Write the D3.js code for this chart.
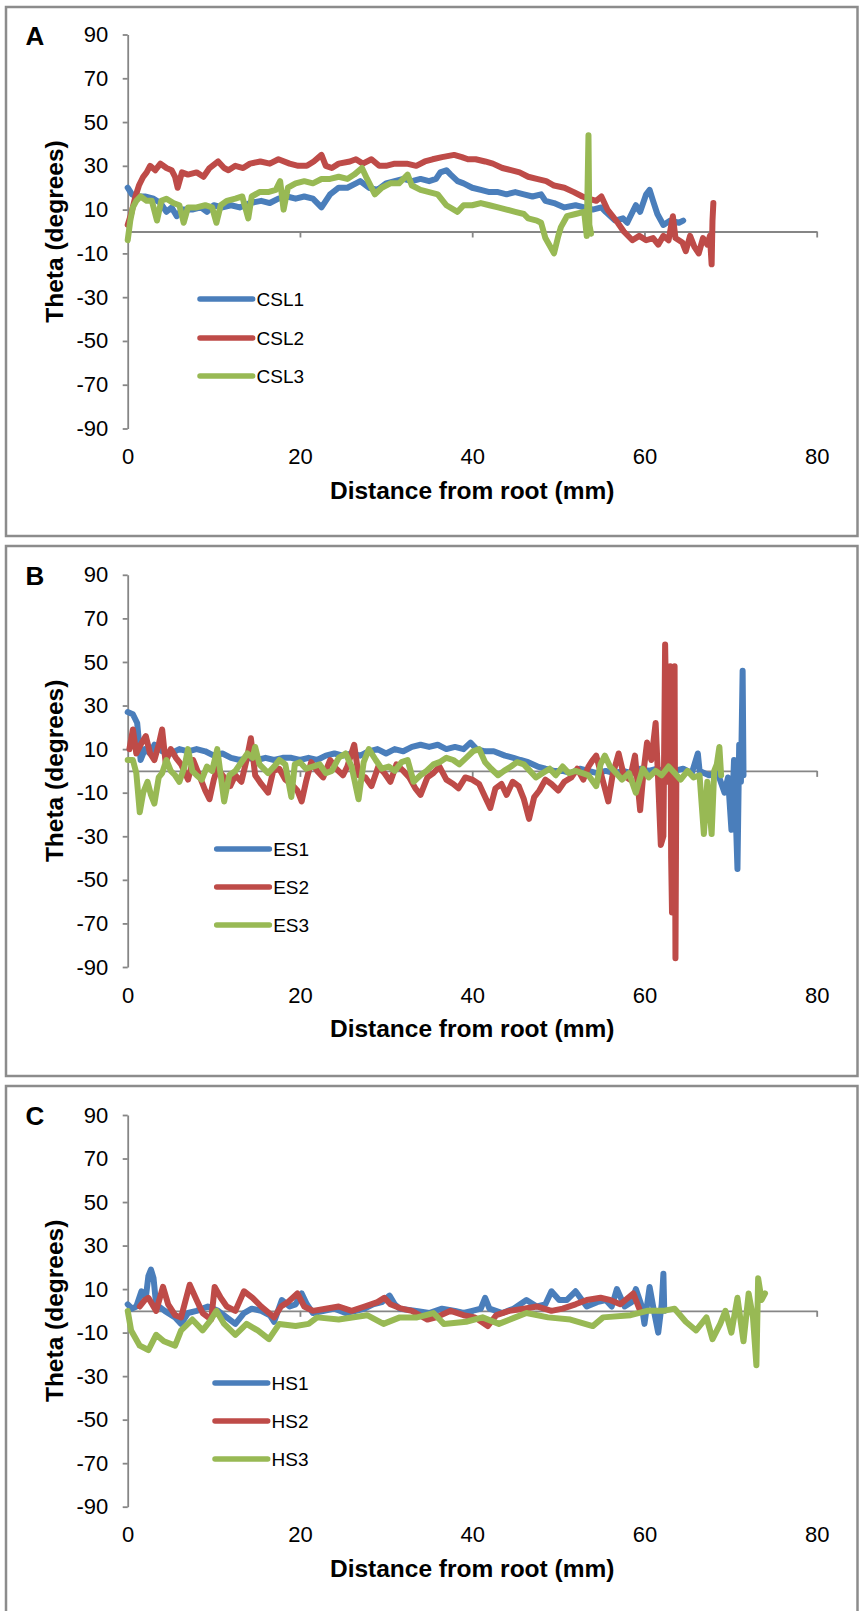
<!DOCTYPE html>
<html>
<head>
<meta charset="utf-8">
<script src="https://cdn.jsdelivr.net/npm/d3@7"></script>
<style>
  body { margin: 0; background: #fff; }
  svg { display: block; font-family: "Liberation Sans", Arial, sans-serif; }
  .axis path, .axis line { stroke: #868686; stroke-width: 1.8; }
  .axis text { fill: #000; font-size: 22px; }
</style>
</head>
<body>
<svg width="860" height="1611"></svg>
<script>
// ** DATA ** //
const panelLetters = ["A", "B", "C"];
const seriesNames = [
  ["CSL1", "CSL2", "CSL3"],
  ["ES1", "ES2", "ES3"],
  ["HS1", "HS2", "HS3"]
];
const seriesColors = ["#4a7ebb", "#be4b48", "#98b954"];
const xTicks = [0, 20, 40, 60, 80];
const yTicks = [90, 70, 50, 30, 10, -10, -30, -50, -70, -90];
const xTitle = "Distance from root (mm)";
const yTitle = "Theta (degrees)";

// [distance mm, theta deg]
const csl1 = [[0,20],[0.5,17],[1,16],[2,16],[3,15],[3.8,13],[4.5,9],[5.1,11],[5.7,7],[6.3,10],[7.5,10],[8.5,11],[9.2,9],[10,12],[11,11],[12,12],[13,11],[14.2,13],[15.5,14],[16.5,13],[17.5,15],[18.5,16],[19.5,15],[20.5,16],[21.5,15],[22.5,11],[23.5,17],[24.5,20],[25.5,20],[26.5,22],[27,23],[28,20],[29,19],[30,22],[31,23],[32,24],[33,23],[34,24],[35,23],[35.8,24],[36.3,27],[37,28],[37.5,26],[38.3,23],[39,22],[40,20],[41,19],[42,18],[43,18],[44,17],[45,18],[46,17],[47,16],[48,17],[48.5,14],[49.5,13],[50.7,11],[52,12],[53,11],[54,10],[55,11],[55.5,9],[56.6,5],[57.5,6],[58,4],[59,12],[59.5,9],[60.2,17],[60.6,19],[61,14],[61.5,8],[62.2,3],[63,5],[64,4],[64.5,5]];
const csl2 = [[0,3],[0.4,8],[0.9,16],[1.3,21],[1.8,25],[2.2,27],[2.6,30],[3.2,28],[3.8,31],[4.5,29],[5.1,28],[5.5,25],[5.8,20],[6.3,27],[7,26],[8,27],[8.8,25],[9.5,29],[10.5,32],[11.2,29],[11.7,28],[12.5,30],[13.4,29],[14.2,31],[15.4,32],[16.5,31],[17.5,33],[18.8,31],[19.8,30],[20.8,30],[21.6,32],[22.5,35],[23,30],[23.7,29],[24.5,31],[25.8,32],[26.5,33],[27.3,31],[28.3,33],[29.2,30],[30,30],[31,31],[32.4,31],[33.5,30],[34.5,32],[35.4,33],[36.5,34],[37.9,35],[38.8,34],[39.5,33],[40.4,33],[41.5,32],[42.4,31],[43.5,29],[44.5,28],[45.5,27],[46.5,25],[47.5,24],[48.6,23],[49.5,21],[50.7,20],[51.8,18],[52.8,16],[53.5,15],[54.4,14],[55,16],[55.7,10],[56.3,7],[56.9,4],[57.6,0],[58.6,-4],[59.4,-2],[60.2,-4],[61,-3],[61.6,-6],[62.2,-2],[62.8,-4],[63.3,7],[63.6,-3],[64.4,-5],[64.8,-9],[65.3,-2],[65.8,-7],[66.3,-10],[66.8,-3],[67.3,-6],[67.6,-2],[67.8,-15],[67.9,5],[68,13]];
const csl3 = [[0,-4],[0.3,5],[0.6,11],[1,14],[1.5,16],[2.2,14],[2.8,14],[3.4,5],[3.9,14],[4.5,15],[5.3,13],[6,12],[6.5,4],[7,11],[8,11],[9,12],[9.8,11],[10.3,4],[10.8,12],[11.5,14],[12.5,15],[13.3,16],[14,6],[14.4,16],[15.3,18],[16.3,18],[17.2,19],[17.7,23],[18.1,10],[18.6,20],[19.5,22],[20.5,23],[21.5,22],[22.5,24],[23.5,24],[24.5,25],[25.5,24],[26.3,26],[27.2,29],[27.8,24],[28.7,17],[29.5,20],[30.5,22],[31.5,22],[32.5,26],[33,21],[34,19],[35,18],[36,17],[37,12],[38.3,9],[39,12],[40,12],[41,13],[42,12],[43,11],[44,10],[45,9],[46,8],[46.5,6],[47.5,5],[48,4],[48.5,-3],[49.5,-10],[50,-2],[50.3,2],[51,7],[52,8],[53,9],[53.3,-2],[53.5,44],[53.6,3],[53.8,-1]];

const es1 = [[0,27],[0.6,26],[1.1,22],[1.5,5],[2,10],[2.6,8],[3.1,12],[4,9],[5,8],[6,10],[7,9],[8,10],[9,9],[10,7],[11,8],[12,6],[13,5],[14,6],[15,5],[16,6],[17,5],[18,6],[19,6],[20,5],[21,6],[22,5],[23,7],[24,8],[25,7],[26,8],[27,7],[28,9],[29,10],[30,8],[31,10],[32,9],[33,11],[34,12],[35,11],[36,12],[37,10],[38,11],[39,10],[39.8,13],[40.5,10],[41.5,9],[42.5,9],[43.8,7],[44.8,6],[45.6,5],[46.5,4],[47.6,2],[48.5,1],[49.5,0],[50.5,0],[51.5,-1],[52.5,1],[53.5,0],[54.5,-1],[55.5,0],[56.5,-1],[57.5,0],[58.5,-1],[59.5,1],[60.5,0],[61.5,1],[62.5,-1],[63.5,0],[64.5,1],[65.5,-1],[66.2,8],[66.4,0],[67.5,-2],[68.5,-1],[69.3,-10],[69.7,-3],[70.1,-27],[70.4,5],[70.8,-45],[71,12],[71.2,-5],[71.4,46],[71.5,-2]];
const es2 = [[0.2,10],[0.6,19],[1,8],[1.5,12],[2.1,16],[2.6,8],[3.1,5],[3.6,12],[4,19],[4.4,4],[5,10],[5.6,6],[6.2,3],[7,-4],[7.6,5],[8.3,-2],[9,-9],[9.5,-13],[10,-4],[10.4,1],[11.2,-3],[11.9,-7],[12.5,-2],[13.2,-5],[13.8,5],[14.3,15],[14.8,-2],[15.5,-6],[16.3,-10],[16.9,0],[17.6,1],[18.3,-4],[19,-6],[19.7,-9],[20.2,-14],[20.7,-5],[21.3,4],[22,0],[22.7,-3],[23.5,5],[24.2,1],[25,-2],[25.5,2],[26.3,12],[26.8,-2],[27.6,-3],[28.3,-7],[29.1,2],[29.8,-1],[30.5,-5],[31.2,3],[32,0],[32.7,-3],[33.4,-8],[34,-11],[34.8,-3],[35.5,-1],[36.2,2],[37,-4],[37.8,-6],[38.4,-8],[39.2,-3],[40,-4],[40.8,-6],[41.5,-12],[42.1,-17],[42.7,-8],[43.4,-6],[44,-11],[44.7,-5],[45.4,-7],[46,-13],[46.6,-22],[47.2,-12],[47.8,-9],[48.5,-4],[49.2,-6],[50,-9],[50.7,-5],[51.5,-3],[52.2,1],[52.9,-4],[53.5,2],[54,5],[54.4,7],[55,-2],[55.4,-8],[55.8,-14],[56.3,-2],[57,8],[57.6,-2],[58.3,-4],[58.9,7],[59.5,-18],[59.9,0],[60.3,13],[60.8,5],[61.3,22],[61.6,-5],[61.9,-34],[62.2,-30],[62.4,58],[62.6,10],[62.8,-5],[63,48],[63.1,-40],[63.2,-65],[63.4,0],[63.5,48],[63.6,-86],[63.7,-5]];
const es3 = [[0,5],[0.6,5],[1,-1],[1.4,-19],[1.8,-10],[2.3,-5],[2.7,-11],[3.1,-15],[3.6,-3],[4,-1],[4.5,5],[5,0],[5.5,-2],[6,-5],[6.6,2],[7,10],[7.5,0],[8,-2],[8.6,-4],[9.2,2],[9.8,0],[10.4,10],[11.2,-14],[11.8,-2],[12.5,0],[13.2,4],[13.9,8],[14.5,6],[14.8,11],[15.3,3],[16.3,-1],[17,2],[17.6,5],[18.3,3],[19,-12],[19.4,3],[20,4],[20.7,1],[21.5,2],[22.3,3],[23,-1],[23.7,0],[24.5,6],[25.3,8],[26,2],[26.8,-13],[27.4,4],[28,10],[28.8,5],[29.5,1],[30.3,2],[31,0],[31.8,4],[32.5,5],[33.2,-5],[34,-2],[34.7,0],[35.5,3],[36.2,4],[37,6],[37.8,5],[38.5,3],[39.3,6],[40.1,9],[40.8,10],[41.5,4],[42.2,1],[43,-2],[43.7,0],[44.5,2],[45.2,4],[46,3],[46.7,0],[47.4,-3],[48.2,-1],[49,1],[49.7,-2],[50.5,2],[51.2,-1],[52,0],[52.8,-1],[53.5,-2],[54.4,-7],[54.9,3],[55.4,7],[56,2],[56.7,-1],[57.4,-4],[58.2,-1],[59,-10],[59.8,1],[60.5,-3],[61.3,0],[62,-2],[62.8,2],[63.5,-1],[64.2,-4],[65,0],[65.7,-3],[66.4,-2],[66.9,-29],[67.3,-5],[67.8,-29],[68.1,0],[68.4,3],[68.7,11],[68.9,-2]];

const hs1 = [[0,3],[0.5,1],[1,2],[1.6,9],[2.1,6],[2.4,16],[2.7,19],[3,15],[3.3,3],[4.3,0],[5.5,-3],[6.2,-6],[7,-1],[8,0],[9.3,2],[10.5,0],[11.5,-3],[12.5,-6],[13.5,-1],[14.4,1],[15.5,0],[16.5,-2],[17,-5],[17.9,5],[18.8,2],[19.5,3],[20.2,8],[20.8,3],[21.5,-1],[22.8,0],[24,1],[25.3,-1],[26.5,0],[27.5,1],[28.5,3],[29.5,4],[30.4,7],[31,3],[31.6,1],[33.5,0],[35,-1],[36.5,1],[38,0],[39,-1],[40,0],[41,1],[41.5,6],[42,1],[43.5,-1],[44.8,1],[46.3,5],[47.5,2],[48.5,3],[49.2,9],[50.1,5],[51,5],[52,9],[53.3,2],[54.5,4],[55.5,5],[56.2,2],[56.8,10],[57.7,2],[58.5,4],[59,10],[59.7,2],[60,-6],[60.6,11],[61.1,0],[61.6,-10],[62,3],[62.2,17],[62.3,0]];
const hs2 = [[1.4,2],[2,5],[2.4,6],[3.3,0],[4.1,11],[4.7,3],[5.5,-2],[6.2,-3],[7.2,12],[8,5],[8.7,-1],[9.7,-4],[10.1,11],[10.8,6],[11.5,2],[12.5,0],[13.5,9],[14.5,6],[15.5,2],[16.4,-1],[17,-3],[17.8,2],[18.6,4],[19.7,8],[20.5,2],[21.5,0],[23,1],[24.5,2],[26,0],[27.5,2],[29,4],[29.8,6],[30.5,3],[31.8,1],[33,0],[34.8,-4],[35.8,-3],[37.5,0],[39,-2],[40.3,-3],[41.8,-7],[42.8,-2],[44.3,0],[46,1],[47.5,2],[49.2,0],[50.5,1],[52,3],[53.3,5],[54.9,6],[56,5],[57.2,3],[58.7,8],[59.4,1]];
const hs3 = [[0,0],[0.4,-9],[1.4,-16],[2.4,-18],[3.3,-11],[4.2,-14],[5.5,-16],[6.2,-9],[7.5,-4],[8.7,-9],[9.5,-5],[10.3,0],[11.2,-6],[12.5,-11],[13.8,-6],[15.1,-9],[16.4,-13],[17.6,-6],[19.5,-7],[21,-6],[22,-3],[24.5,-4],[27.8,-2],[29.7,-6],[31.6,-3],[33.6,-3],[35.5,-1],[36.7,-6],[39.3,-5],[41.2,-3],[43.1,-6],[45,-3],[46.3,-1],[48.8,-3],[51.4,-4],[54,-7],[55.2,-3],[58.4,-2],[60.3,0],[62.2,0],[63.5,1],[64.8,-5],[66,-9],[67.2,-3],[67.9,-13],[68.8,-6],[69.4,0],[70.1,-10],[70.8,6],[71.5,-14],[72.1,8],[72.6,-3],[73,-25],[73.2,15],[73.6,5],[74,8]];

const panelSeries = [
  [csl1, csl2, csl3],
  [es1, es2, es3],
  [hs1, hs2, hs3]
];

const onReady = () => {
  // ** LAYOUT ** //
  const svg = d3.select("svg");
  const plotLeft = 127.7;
  const plotRight = 816.7;
  const layout = [
    { top: 7, height: 529, y90: 34.5, yM90: 428.5, legX: 200, legY: [299, 338, 376] },
    { top: 546, height: 530, y90: 574.8, yM90: 967, legX: 216.7, legY: [849, 887, 925] },
    { top: 1086, height: 540, y90: 1115, yM90: 1506.7, legX: 215, legY: [1383, 1421, 1459] }
  ];

  const x = d3.scaleLinear().domain([0, 80]).range([plotLeft, plotRight]);

  const line = (y) =>
    d3
      .line()
      .x(d => x(d[0]))
      .y(d => y(d[1]));

  layout.forEach((p, i) => {
    const y = d3.scaleLinear().domain([-90, 90]).range([p.yM90, p.y90]);
    const g = svg.append("g").attr("class", "panel");

    // panel frame
    g.append("rect")
      .attr("x", 6)
      .attr("y", p.top)
      .attr("width", 851.5)
      .attr("height", p.height)
      .attr("fill", "none")
      .attr("stroke", "#8c8c8c")
      .attr("stroke-width", 2.5);

    // y axis with outside ticks (plain hyphen for negatives)
    g.append("g")
      .attr("class", "axis")
      .attr("transform", `translate(${plotLeft},0)`)
      .call(
        d3.axisLeft(y)
          .tickValues(yTicks)
          .tickSize(5)
          .tickSizeOuter(0)
          .tickPadding(14.5)
          .tickFormat(d => String(d))
      );

    // zero line with tick marks
    g.append("g")
      .attr("class", "axis")
      .attr("transform", `translate(0,${y(0)})`)
      .call(d3.axisBottom(x).tickValues(xTicks.slice(1)).tickSize(6).tickSizeOuter(0).tickFormat(() => ""));

    // x tick labels at the bottom
    const xl = g.append("g")
      .attr("class", "axis")
      .attr("transform", `translate(0,${p.yM90})`)
      .call(d3.axisBottom(x).tickValues(xTicks).tickSize(0).tickPadding(20));
    xl.select(".domain").remove();

    // series
    panelSeries[i].forEach((s, k) => {
      g.append("path")
        .datum(s)
        .attr("d", line(y))
        .attr("fill", "none")
        .attr("stroke", seriesColors[k])
        .attr("stroke-width", 6)
        .attr("stroke-linejoin", "round")
        .attr("stroke-linecap", "round");
    });

    // legend
    seriesNames[i].forEach((name, k) => {
      g.append("line")
        .attr("x1", p.legX)
        .attr("x2", p.legX + 52.7)
        .attr("y1", p.legY[k])
        .attr("y2", p.legY[k])
        .attr("stroke", seriesColors[k])
        .attr("stroke-width", 5.5)
        .attr("stroke-linecap", "round");
      g.append("text")
        .attr("x", p.legX + 56.5)
        .attr("y", p.legY[k])
        .attr("dy", "0.35em")
        .attr("font-size", 19)
        .text(name);
    });

    // titles
    g.append("text")
      .attr("x", (plotLeft + plotRight) / 2)
      .attr("y", p.yM90 + 70)
      .attr("text-anchor", "middle")
      .attr("font-size", 24.5)
      .attr("font-weight", "bold")
      .text(xTitle);

    g.append("text")
      .attr("transform", `translate(62.5,${y(0)}) rotate(-90)`)
      .attr("text-anchor", "middle")
      .attr("font-size", 24.5)
      .attr("font-weight", "bold")
      .text(yTitle);

    g.append("text")
      .attr("x", 35)
      .attr("y", p.y90 + 10)
      .attr("text-anchor", "middle")
      .attr("font-size", 26)
      .attr("font-weight", "bold")
      .text(panelLetters[i]);
  });
};
document.addEventListener("DOMContentLoaded", onReady);
</script>
</body>
</html>
